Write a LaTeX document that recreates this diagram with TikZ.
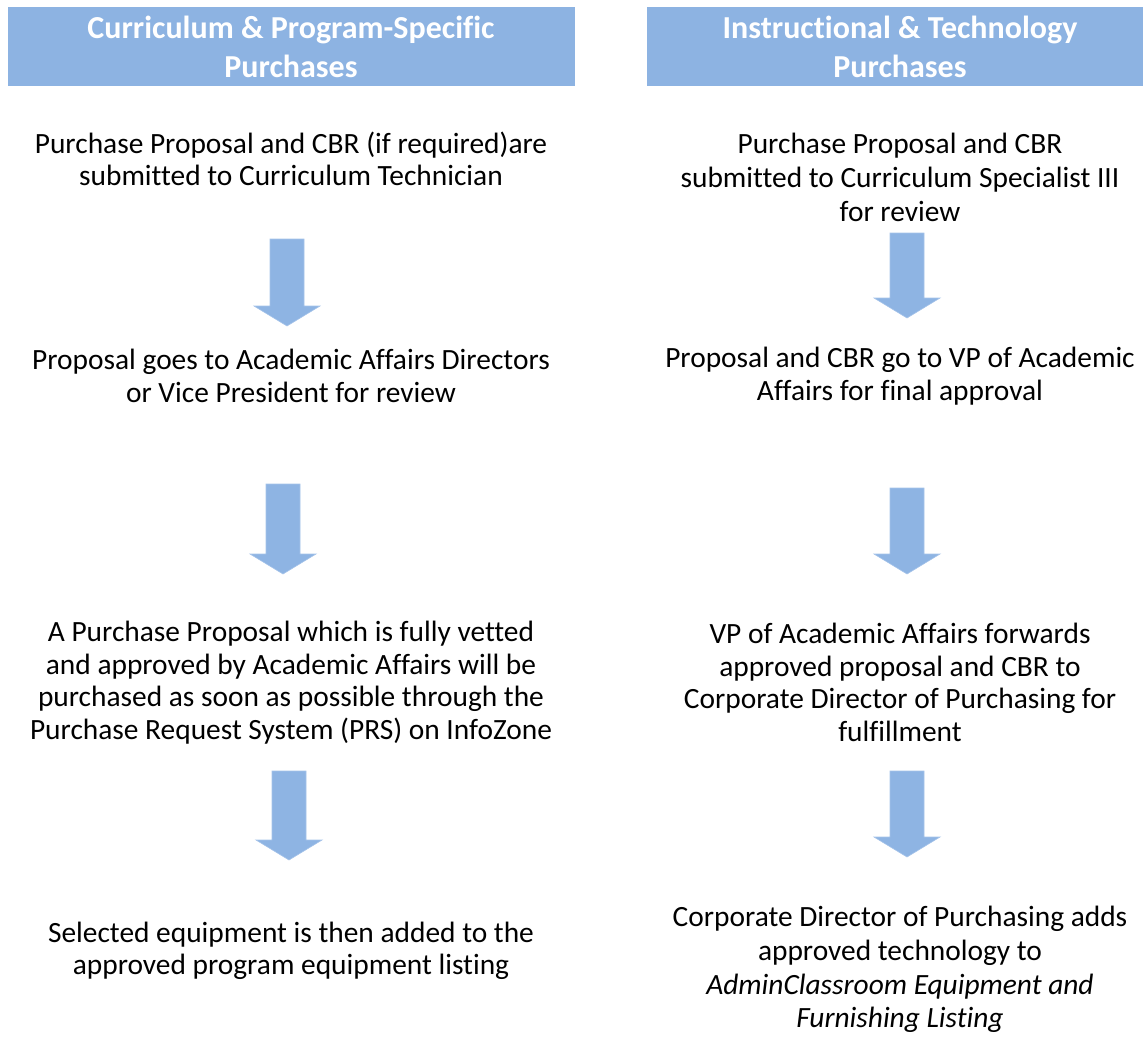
\documentclass[tikz,border=0pt]{standalone}
\usepackage{fontspec}
\setmainfont{Carlito}[Ligatures=NoCommon]
\definecolor{headblue}{HTML}{8DB3E2}
\definecolor{arrowblue}{HTML}{8EB4E3}
\tikzset{
  headbox/.style={fill=headblue,draw=none},
  headtext/.style={text=white,align=center,inner sep=0pt,
    font=\fontsize{32}{39}\selectfont\bfseries},
  steptext/.style={align=center,inner sep=0pt,
    font=\fontsize{29.4}{32.5}\selectfont},
  widestep/.style={steptext,font=\fontsize{29.4}{33.8}\selectfont},
  arrowfill/.style={fill=arrowblue,draw=arrowblue!80!white,line width=0.6pt}
}
% block arrow pointing down: x, top of shaft, tip
\newcommand\downblock[3]{%
  \filldraw[arrowfill](#1-17,#2)--(#1+17,#2)--(#1+17,#3-20)--(#1+33,#3-20)
    --(#1,#3)--(#1-33,#3-20)--(#1-17,#3-20)--cycle;}
\begin{document}
\begin{tikzpicture}[x=1pt,y=-1pt]
            \useasboundingbox(0,0)rectangle(1143,1038);
            % headers
            \fill[headbox](8,7)rectangle(575,86);
            \fill[headbox](647,7)rectangle(1143,86);
            \node[headtext](lhead)at(291,47){Curriculum \& Program-Specific\\Purchases};
            \node[headtext](rhead)at(900,47){Instructional \& Technology\\Purchases};
            % left column
            \node[steptext](l1)at(291,159){Purchase Proposal and CBR (if required)are\\submitted to Curriculum Technician};
            \node[steptext](l2)at(291,376){Proposal goes to Academic Affairs Directors\\or Vice President for review};
            \node[steptext](l3)at(291,682.5){A Purchase Proposal which is fully vetted\\and approved by Academic Affairs will be\\purchased as soon as possible through the\\Purchase Request System (PRS) on InfoZone};
            \node[steptext](l4)at(291,951){Selected equipment is then added to the\\approved program equipment listing};
            \downblock{287}{239}{326}
            \downblock{283}{484}{574}
            \downblock{289}{771}{860}
            % right column
            \node[widestep](r1)at(900,177.5){Purchase Proposal and CBR\\submitted to Curriculum Specialist III\\for review};
            \node[steptext](r2)at(900,376){Proposal and CBR go to VP of Academic\\Affairs for final approval};
            \node[steptext](r3)at(900,682.5){VP of Academic Affairs forwards\\approved proposal and CBR to\\Corporate Director of Purchasing for\\fulfillment};
            \node[widestep](r4)at(900,969.5){Corporate Director of Purchasing adds\\approved technology to\\\textit{AdminClassroom Equipment and}\\\textit{Furnishing Listing}};
            \downblock{907}{233}{318}
            \downblock{907}{488}{574}
            \downblock{907}{771}{857}
        \end{tikzpicture}
\end{document}
